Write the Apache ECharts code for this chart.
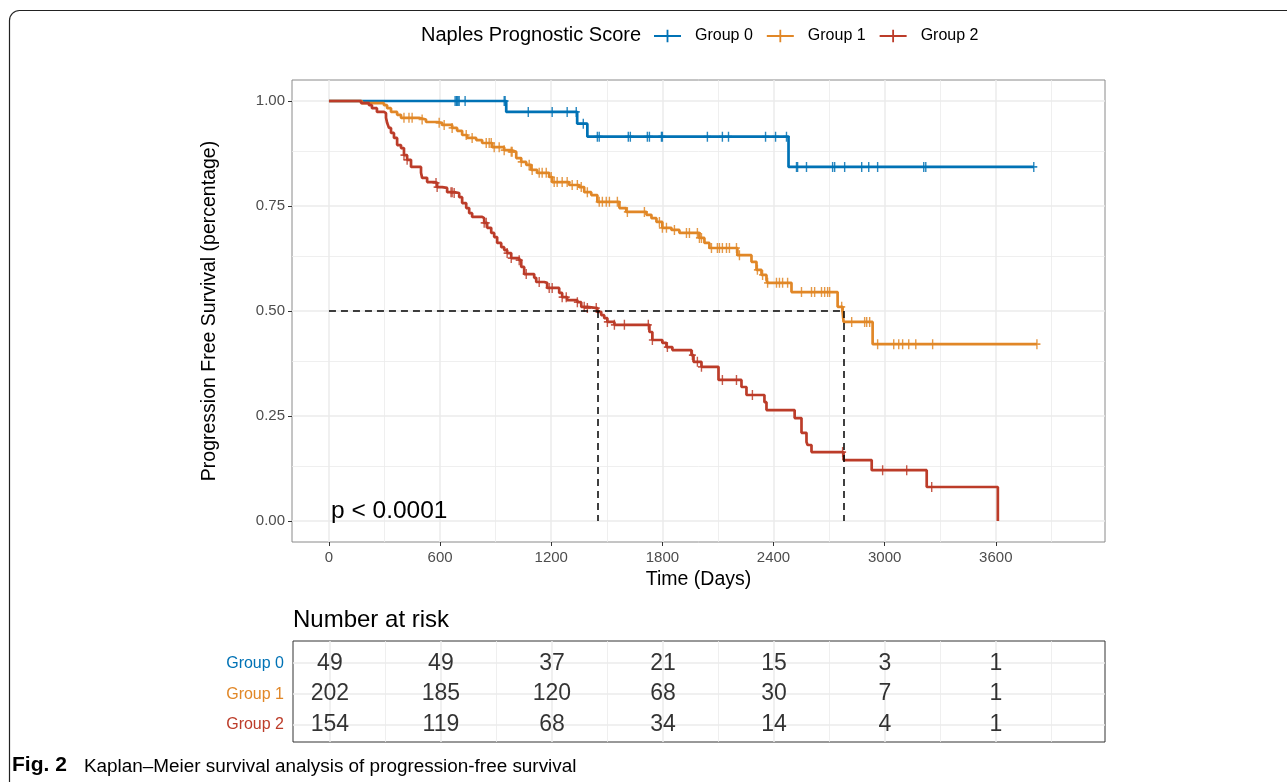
<!DOCTYPE html>
<html><head><meta charset="utf-8">
<script src="https://cdn.jsdelivr.net/npm/echarts@6/dist/echarts.min.js"></script>
<style>html,body{margin:0;padding:0;background:#fff}#c{width:1287px;height:782px}</style>
</head><body><div id="c"></div>
<script>
// ---------- data ----------
const groups = ['Group 0', 'Group 1', 'Group 2'];
const colors = ['#0072B5', '#E18727', '#BC3C29'];

const g0EventTimes = [957, 1340, 1395, 2481];
const g0EventSurv  = [0.974, 0.946, 0.915, 0.843];
const g0CensorTimes = [681, 688, 692, 697, 703, 735, 946, 951, 1076, 1205, 1286, 1335, 1373, 1449, 1459, 1616, 1627, 1719, 1730, 1795, 1800, 2043, 2124, 2157, 2357, 2411, 2470, 2524, 2530, 2578, 2719, 2730, 2784, 2876, 2914, 2962, 3211, 3222, 3805];

const g1EventTimes = [178, 297, 314, 335, 368, 389, 486, 524, 584, 611, 665, 692, 719, 746, 795, 827, 881, 946, 984, 1011, 1038, 1065, 1092, 1124, 1189, 1205, 1297, 1351, 1378, 1416, 1449, 1568, 1605, 1714, 1741, 1768, 1800, 1849, 1892, 2000, 2027, 2054, 2205, 2281, 2308, 2335, 2362, 2368, 2497, 2746, 2773, 2778, 2935];
const g1EventSurv  = [0.995, 0.990, 0.983, 0.974, 0.967, 0.960, 0.956, 0.950, 0.948, 0.943, 0.936, 0.929, 0.919, 0.912, 0.907, 0.900, 0.890, 0.883, 0.879, 0.864, 0.855, 0.848, 0.836, 0.829, 0.819, 0.807, 0.800, 0.795, 0.783, 0.776, 0.760, 0.745, 0.736, 0.729, 0.721, 0.712, 0.698, 0.693, 0.686, 0.674, 0.662, 0.650, 0.633, 0.617, 0.598, 0.586, 0.574, 0.567, 0.545, 0.510, 0.498, 0.474, 0.421];
const g1CensorTimes = [405, 432, 449, 503, 595, 622, 665, 741, 773, 849, 865, 876, 892, 919, 946, 984, 989, 1038, 1081, 1097, 1135, 1151, 1173, 1200, 1216, 1232, 1259, 1286, 1313, 1341, 1362, 1395, 1459, 1476, 1497, 1514, 1557, 1611, 1703, 1784, 1800, 1822, 1865, 1930, 1946, 1989, 2000, 2011, 2065, 2097, 2108, 2124, 2146, 2162, 2200, 2216, 2313, 2341, 2368, 2416, 2432, 2449, 2476, 2551, 2605, 2622, 2659, 2676, 2692, 2703, 2768, 2822, 2892, 2903, 2919, 2962, 3049, 3076, 3097, 3130, 3168, 3259, 3822];

const g2EventTimes = [173, 216, 232, 259, 297, 308, 314, 324, 335, 351, 368, 389, 405, 422, 443, 497, 503, 530, 568, 584, 611, 638, 676, 703, 719, 741, 757, 773, 827, 838, 854, 876, 892, 908, 930, 946, 962, 984, 1027, 1038, 1054, 1108, 1119, 1162, 1178, 1243, 1259, 1286, 1341, 1362, 1395, 1449, 1470, 1486, 1503, 1541, 1730, 1746, 1800, 1822, 1854, 1957, 1968, 2011, 2103, 2227, 2254, 2351, 2362, 2514, 2551, 2578, 2584, 2605, 2778, 2930, 3227, 3611];
const g2EventSurv  = [0.995, 0.990, 0.983, 0.974, 0.971, 0.960, 0.948, 0.936, 0.924, 0.912, 0.895, 0.888, 0.871, 0.860, 0.843, 0.829, 0.817, 0.807, 0.805, 0.795, 0.793, 0.783, 0.781, 0.771, 0.757, 0.745, 0.733, 0.724, 0.721, 0.710, 0.698, 0.686, 0.676, 0.662, 0.652, 0.645, 0.638, 0.626, 0.621, 0.605, 0.588, 0.579, 0.569, 0.567, 0.555, 0.543, 0.533, 0.526, 0.521, 0.510, 0.507, 0.498, 0.490, 0.483, 0.474, 0.467, 0.450, 0.431, 0.424, 0.414, 0.407, 0.395, 0.379, 0.367, 0.336, 0.319, 0.300, 0.283, 0.264, 0.245, 0.210, 0.188, 0.181, 0.164, 0.145, 0.121, 0.081, 0.000];
const g2CensorTimes = [405, 422, 578, 584, 659, 665, 676, 838, 849, 962, 984, 1027, 1065, 1135, 1189, 1205, 1259, 1281, 1341, 1378, 1395, 1443, 1503, 1541, 1595, 1724, 1746, 1827, 1962, 1989, 2011, 2124, 2200, 2286, 2773, 2989, 3119, 3254];

const xTicks = [0, 600, 1200, 1800, 2400, 3000, 3600];
const xMinor = [300, 900, 1500, 2100, 2700, 3300, 3900];
const yTicks = [0, 0.25, 0.5, 0.75, 1];
const yMinor = [0.125, 0.375, 0.625, 0.875];

const riskTimes = [0, 600, 1200, 1800, 2400, 3000, 3600];
const risk0 = [49, 49, 37, 21, 15, 3, 1];
const risk1 = [202, 185, 120, 68, 30, 7, 1];
const risk2 = [154, 119, 68, 34, 14, 4, 1];

const medianTimes = [1449, 2778];
const medianLevel = 0.5;
const pValueText = 'p < 0.0001';

// ---------- helpers ----------
const X_MIN = -199.5, X_MAX = 4189.5;
const events = [[g0EventTimes, g0EventSurv, g0CensorTimes], [g1EventTimes, g1EventSurv, g1CensorTimes], [g2EventTimes, g2EventSurv, g2CensorTimes]];
const risks = [risk0, risk1, risk2];

function kmPath(times, surv, censors) {
  const pts = [[0, 1]];
  times.forEach((t, i) => pts.push([t, surv[i]]));
  const lastT = times[times.length - 1];
  const maxC = Math.max.apply(null, censors);
  if (maxC > lastT) pts.push([maxC, surv[surv.length - 1]]);
  return pts;
}
function survAt(times, surv, t) {
  let s = 1;
  for (let i = 0; i < times.length; i++) { if (times[i] <= t) s = surv[i]; else break; }
  return s;
}
const plusPath = 'path://M-0.2,-1 L0.2,-1 L0.2,-0.17 L1,-0.17 L1,0.17 L0.2,0.17 L0.2,1 L-0.2,1 L-0.2,0.17 L-1,0.17 L-1,-0.17 L-0.2,-0.17 Z';
const legendIcon = 'path://M0,6 L14,6 L14,0 L16,0 L16,6 L30,6 L30,8 L16,8 L16,14 L14,14 L14,8 L0,8 Z';

function gridMarks(xMaj, xMin, yMaj, yMin) {
  const d = [];
  xMin.forEach(v => d.push({ xAxis: v, lineStyle: { color: '#ebebeb', width: 0.8 } }));
  yMin.forEach(v => d.push({ yAxis: v, lineStyle: { color: '#ebebeb', width: 0.8 } }));
  xMaj.forEach(v => d.push({ xAxis: v, lineStyle: { color: '#ebebeb', width: 1.5 } }));
  yMaj.forEach(v => d.push({ yAxis: v, lineStyle: { color: '#ebebeb', width: 1.5 } }));
  return d;
}

const series = [];
series.push({
  type: 'line', xAxisIndex: 0, yAxisIndex: 0, data: [], z: 0, silent: true,
  markLine: { silent: true, z: 0, symbol: ['none', 'none'], label: { show: false }, animation: false,
    lineStyle: { type: 'solid' }, data: gridMarks(xTicks, xMinor, yTicks, yMinor) }
});
series.push({
  type: 'line', xAxisIndex: 1, yAxisIndex: 1, data: [], z: 0, silent: true,
  markLine: { silent: true, z: 0, symbol: ['none', 'none'], label: { show: false }, animation: false,
    lineStyle: { type: 'solid' }, data: gridMarks(xTicks, xMinor, [1, 2, 3], []) }
});
events.forEach((e, g) => {
  series.push({
    name: groups[g], type: 'line', step: 'end', xAxisIndex: 0, yAxisIndex: 0,
    data: kmPath(e[0], e[1], e[2]), symbol: 'none', z: 3,
    lineStyle: { color: colors[g], width: 2.7 }, itemStyle: { color: colors[g] }
  });
});
events.forEach((e, g) => {
  series.push({
    type: 'scatter', xAxisIndex: 0, yAxisIndex: 0, z: 4, silent: true,
    data: e[2].map(t => [t, survAt(e[0], e[1], t)]),
    symbol: plusPath, symbolSize: [7, 10],
    itemStyle: { color: colors[g], opacity: 0.85 }
  });
});
series.push({
  type: 'line', xAxisIndex: 0, yAxisIndex: 0, data: [], z: 5, silent: true,
  markLine: { silent: true, z: 5, symbol: ['none', 'none'], label: { show: false }, animation: false,
    lineStyle: { color: '#000', type: [7, 5], width: 1.5 },
    data: [[{ coord: [0, medianLevel] }, { coord: [Math.max.apply(null, medianTimes), medianLevel] }]]
      .concat(medianTimes.map(t => [{ coord: [t, medianLevel] }, { coord: [t, 0] }])) }
});
risks.forEach((r, g) => {
  series.push({
    type: 'scatter', xAxisIndex: 1, yAxisIndex: 1, z: 4, silent: true,
    data: riskTimes.map((t, i) => [t, g + 1, r[i]]),
    symbolSize: 1, itemStyle: { color: 'rgba(0,0,0,0)' },
    label: { show: true, position: 'inside', formatter: p => String(p.value[2]),
      color: '#000', fontSize: 23, fontFamily: 'Liberation Sans' }
  });
});

const FONT = 'Liberation Sans';
const option = {
  animation: false,
  backgroundColor: '#fff',
  textStyle: { fontFamily: FONT },
  grid: [
    { left: 292, top: 80, width: 813, height: 462, show: true, borderColor: '#8a8a8a', borderWidth: 1, backgroundColor: '#fff' },
    { left: 293, top: 641, width: 812, height: 101, show: true, borderColor: '#333', borderWidth: 1, backgroundColor: '#fff' }
  ],
  xAxis: [
    { type: 'value', gridIndex: 0, min: X_MIN, max: X_MAX,
      axisLine: { show: false, onZero: false }, splitLine: { show: false },
      axisTick: { show: true, customValues: xTicks, length: 4, lineStyle: { color: '#333' } },
      axisLabel: { customValues: xTicks, fontSize: 15, color: '#4d4d4d', margin: 8, fontFamily: FONT,
        formatter: v => String(v) },
      name: 'Time (Days)', nameLocation: 'middle', nameGap: 27,
      nameTextStyle: { fontSize: 19.5, color: '#000', fontFamily: FONT } },
    { type: 'value', gridIndex: 1, min: X_MIN, max: X_MAX, show: false, axisLine: { onZero: false } }
  ],
  yAxis: [
    { type: 'value', gridIndex: 0, min: -0.05, max: 1.05,
      axisLine: { show: false, onZero: false }, splitLine: { show: false },
      axisTick: { show: true, customValues: yTicks, length: 4, lineStyle: { color: '#333' } },
      axisLabel: { customValues: yTicks, fontSize: 15, color: '#4d4d4d', margin: 7, fontFamily: FONT,
        formatter: v => Number(v).toFixed(2) },
      name: 'Progression Free Survival (percentage)', nameLocation: 'middle', nameGap: 72, nameRotate: 90,
      nameTextStyle: { fontSize: 19.5, color: '#000', fontFamily: FONT } },
    { type: 'value', gridIndex: 1, min: 0.28, max: 3.55, inverse: true,
      axisLine: { show: false, onZero: false }, splitLine: { show: false }, axisTick: { show: false },
      axisLabel: { customValues: [1, 2, 3], fontSize: 16, margin: 9, fontFamily: FONT,
        formatter: v => groups[Math.round(v) - 1],
        color: v => colors[Math.round(v) - 1] } }
  ],
  legend: {
    data: groups, left: 649, top: 23, orient: 'horizontal',
    itemWidth: 27, itemHeight: 14, itemGap: 14, icon: legendIcon,
    textStyle: { fontSize: 16, color: '#000', fontFamily: FONT, padding: [0, 0, 0, 9] }
  },
  graphic: [
    { type: 'rect', silent: true, z: -10, shape: { x: 9.5, y: 10.5, width: 1300, height: 800, r: 10 },
      style: { fill: 'none', stroke: '#222', lineWidth: 1.2 } },
    { type: 'text', left: 421, top: 25, silent: true,
      style: { text: 'Naples Prognostic Score', fontSize: 20, fill: '#000', fontFamily: FONT } },
    { type: 'text', left: 331, top: 499, silent: true, z: 10,
      style: { text: pValueText, fontSize: 24.5, fill: '#000', fontFamily: FONT } },
    { type: 'text', left: 293, top: 608, silent: true,
      style: { text: 'Number at risk', fontSize: 24, fill: '#000', fontFamily: FONT } },
    { type: 'text', left: 12, top: 755, silent: true,
      style: { text: 'Fig. 2', fontSize: 21, fontWeight: 'bold', fill: '#000', fontFamily: FONT } },
    { type: 'text', left: 84, top: 757, silent: true,
      style: { text: 'Kaplan\u2013Meier survival analysis of progression-free survival', fontSize: 18.9, fill: '#000', fontFamily: FONT } }
  ],
  series: series
};
const chart = echarts.init(document.getElementById('c'), null, { renderer: 'canvas' });
chart.setOption(option);
</script>
</body></html>
